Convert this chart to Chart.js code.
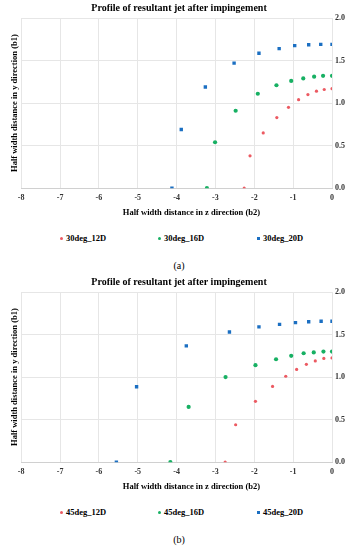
<!DOCTYPE html>
<html>
<head>
<meta charset="utf-8">
<script src="https://cdn.jsdelivr.net/npm/chart.js@4/dist/chart.umd.min.js"></script>
<style>
  body { margin: 0; background: #fff; font-family: 'Liberation Serif', 'Times New Roman', serif; }
  .panel { position: relative; width: 358px; height: 274px; }
  .panel canvas { position: absolute; left: 0; top: 0; }
  .legend { position: absolute; top: 232px; left: 0; width: 358px; height: 12px; font-size: 8.5px; font-weight: bold; color: #000; }
  .legend span.item { position: absolute; top: 0; white-space: nowrap; line-height: 12px; }
  .legend i { display: inline-block; width: 3px; height: 3px; border-radius: 50%; margin-right: 3px; vertical-align: middle; position: relative; top: -1px; }
  .caption { position: absolute; top: 259px; left: 0; width: 358px; text-align: center; font-size: 10px; color: #000; line-height: 14px; }
</style>
</head>
<body>
<div class="panel" id="panelA"><canvas id="chartA" width="358" height="220"></canvas></div>
<div class="panel" id="panelB"><canvas id="chartB" width="358" height="220"></canvas></div>
<script>
// (a) 30 deg
const z30_12D = [-2.26, -2.11, -1.77, -1.42, -1.12, -0.86, -0.62, -0.40, -0.20, 0];
const b30_12D = [0, 0.38, 0.65, 0.83, 0.95, 1.04, 1.10, 1.14, 1.16, 1.17];
const z30_16D = [-3.22, -3.01, -2.48, -1.91, -1.43, -1.05, -0.74, -0.46, -0.23, 0];
const b30_16D = [0, 0.54, 0.91, 1.11, 1.21, 1.26, 1.29, 1.31, 1.32, 1.32];
const z30_20D = [-4.12, -3.88, -3.26, -2.52, -1.88, -1.36, -0.96, -0.60, -0.29, 0];
const b30_20D = [0, 0.69, 1.19, 1.47, 1.585, 1.64, 1.675, 1.685, 1.69, 1.69];

// (b) 45 deg
const z45_12D = [-2.75, -2.48, -1.97, -1.53, -1.19, -0.91, -0.66, -0.43, -0.21, 0];
const b45_12D = [0, 0.44, 0.715, 0.89, 1.01, 1.09, 1.15, 1.19, 1.22, 1.225];
const z45_16D = [-4.16, -3.69, -2.74, -1.97, -1.44, -1.05, -0.73, -0.47, -0.22, 0];
const b45_16D = [0, 0.65, 1.0, 1.14, 1.21, 1.25, 1.28, 1.29, 1.30, 1.30];
const z45_20D = [-5.55, -5.03, -3.75, -2.64, -1.88, -1.35, -0.94, -0.60, -0.28, 0];
const b45_20D = [0, 0.886, 1.367, 1.53, 1.59, 1.62, 1.64, 1.65, 1.656, 1.656];

const xTicks = [-8, -7, -6, -5, -4, -3, -2, -1, 0];
const yTicks = [0, 0.5, 1.0, 1.5, 2.0];

const chartTitle = 'Profile of resultant jet after impingement';
const xTitle = 'Half width distance in z direction (b2)';
const yTitle = 'Half width distance in y direction (b1)';

const RED = '#ec5a62', GREEN = '#17b063', BLUE = '#1b6fc2';
const SERIF = "'Liberation Serif', 'Times New Roman', serif";

function pts(xs, ys) {
  var out = [];
  for (var i = 0; i < xs.length; i++) out.push({ x: xs[i], y: ys[i] });
  return out;
}

// legend markers sit at these x positions in the reference
const legendX = [60, 158, 257];

function makeLegend(panel, chart) {
  var box = document.createElement('div');
  box.className = 'legend';
  chart.data.datasets.forEach(function (ds, i) {
    var item = document.createElement('span');
    item.className = 'item';
    item.style.left = legendX[i] + 'px';
    var dot = document.createElement('i');
    dot.style.background = ds.backgroundColor;
    if (i === 2) dot.style.borderRadius = '0';
    item.appendChild(dot);
    item.appendChild(document.createTextNode(ds.label));
    box.appendChild(item);
  });
  panel.appendChild(box);
}

function makeChart(id, panelId, labels, series, caption) {
  var colors = [RED, GREEN, BLUE];
  var radii = [1.6, 2.1, 2.4];
  var ctx = document.getElementById(id).getContext('2d');
  var chart = new Chart(ctx, {
    type: 'scatter',
    data: {
      datasets: series.map(function (s, i) {
        return {
          label: labels[i],
          data: pts(s[0], s[1]),
          backgroundColor: colors[i],
          borderColor: colors[i],
          borderWidth: 0,
          pointRadius: radii[i],
          pointStyle: i === 2 ? 'rect' : 'circle'
        };
      })
    },
    options: {
      responsive: false,
      animation: false,
      layout: { padding: { left: 10, right: 10, top: 0, bottom: 0 } },
      plugins: {
        title: {
          display: true,
          text: chartTitle,
          color: '#000',
          font: { family: SERIF, size: 10, weight: 'bold' },
          padding: { top: 2, bottom: 4 }
        },
        legend: { display: false },
        tooltip: { enabled: false }
      },
      scales: {
        x: {
          type: 'linear',
          min: -8,
          max: 0,
          afterBuildTicks: function (axis) { axis.ticks = xTicks.map(function (v) { return { value: v }; }); },
          grid: { color: '#e6e6e6', drawTicks: false },
          border: { color: '#d0d0d0' },
          ticks: {
            padding: 5,
            color: '#333',
            font: { family: SERIF, size: 8, weight: 'bold' }
          },
          title: {
            display: true,
            text: '\u2002\u2002\u2002\u2002\u2002\u2002\u2002' + xTitle,
            color: '#000',
            font: { family: SERIF, size: 8.5, weight: 'bold' },
            padding: { top: 0, bottom: 2 }
          }
        },
        y: {
          type: 'linear',
          position: 'right',
          min: 0,
          max: 2,
          afterBuildTicks: function (axis) { axis.ticks = yTicks.map(function (v) { return { value: v }; }); },
          grid: { color: '#e6e6e6', drawTicks: false },
          border: { display: false },
          ticks: {
            padding: 3,
            color: '#333',
            font: { family: SERIF, size: 8, weight: 'bold' },
            callback: function (v) { return v.toFixed(1); }
          }
        },
        yTitle: {
          type: 'linear',
          position: 'left',
          min: 0,
          max: 2,
          grid: { display: false, drawTicks: false },
          border: { display: false },
          ticks: { display: false },
          title: {
            display: true,
            text: yTitle,
            color: '#000',
            font: { family: SERIF, size: 8.5, weight: 'bold' },
            padding: { top: 0, bottom: 1 }
          }
        }
      }
    }
  });
  var panel = document.getElementById(panelId);
  makeLegend(panel, chart);
  var cap = document.createElement('div');
  cap.className = 'caption';
  cap.textContent = caption;
  panel.appendChild(cap);
  return chart;
}

makeChart('chartA', 'panelA', ['30deg_12D', '30deg_16D', '30deg_20D'],
  [[z30_12D, b30_12D], [z30_16D, b30_16D], [z30_20D, b30_20D]], '(a)');
makeChart('chartB', 'panelB', ['45deg_12D', '45deg_16D', '45deg_20D'],
  [[z45_12D, b45_12D], [z45_16D, b45_16D], [z45_20D, b45_20D]], '(b)');
</script>
</body>
</html>
